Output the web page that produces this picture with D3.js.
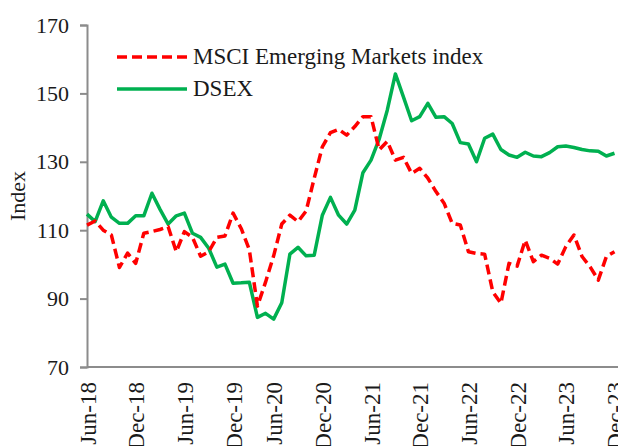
<!DOCTYPE html>
<html>
<head>
<meta charset="utf-8">
<script src="https://cdn.jsdelivr.net/npm/d3@7"></script>
<style>
  body { margin: 0; background: #fff; }
  svg { display: block; font-family: "Liberation Serif", "DejaVu Serif", serif; }
</style>
</head>
<body>
<div id="chart"></div>
<script>
// monthly observations, Apr-20 is missing (market closed)
var months = [
  "Jun-18","Jul-18","Aug-18","Sep-18","Oct-18","Nov-18","Dec-18",
  "Jan-19","Feb-19","Mar-19","Apr-19","May-19","Jun-19","Jul-19","Aug-19","Sep-19","Oct-19","Nov-19","Dec-19",
  "Jan-20","Feb-20","Mar-20","May-20","Jun-20","Jul-20","Aug-20","Sep-20","Oct-20","Nov-20","Dec-20",
  "Jan-21","Feb-21","Mar-21","Apr-21","May-21","Jun-21","Jul-21","Aug-21","Sep-21","Oct-21","Nov-21","Dec-21",
  "Jan-22","Feb-22","Mar-22","Apr-22","May-22","Jun-22","Jul-22","Aug-22","Sep-22","Oct-22","Nov-22","Dec-22",
  "Jan-23","Feb-23","Mar-23","Apr-23","May-23","Jun-23","Jul-23","Aug-23","Sep-23","Oct-23","Nov-23","Dec-23"
]
var msci = [
  111.5, 112.7, 110, 108.6, 99.1, 103.3, 100.3, 109.1, 109.6, 110.2,
  111, 103.7, 109.6, 107.9, 102.4, 103.7, 107.9, 108.3, 115, 110.5,
  104.3, 87.8, 94.8, 102.5, 111.8, 114.4, 112.5, 115.6, 125.2, 134.4,
  138.5, 139.5, 137.8, 140.3, 143.2, 143.2, 133.5, 136, 130.5, 131.3,
  126.6, 128.1, 125.2, 121.3, 117.9, 112, 111.5, 103.7, 103.2, 103,
  92, 88.6, 100.3, 99.5, 107.1, 100.8, 102.7, 101.8, 100.1, 105.2,
  108.6, 102.3, 99.3, 95.4, 102.3, 103.7
]
var dsex = [
  114.7, 112.5, 118.6, 113.8, 112, 112, 114.2, 114.2, 120.8, 116.1,
  111.8, 114.2, 115, 109.1, 107.9, 104.7, 99.2, 100.1, 94.5, 94.6,
  94.8, 84.5, 85.7, 84, 88.8, 103, 105, 102.5, 102.7, 114.4,
  119.6, 114.4, 111.8, 115.9, 126.8, 130.5, 136.6, 145.1, 155.7, 148.9,
  142, 143.2, 147.1, 143, 143.2, 141.2, 135.6, 135.2, 130, 136.9,
  138.1, 133.6, 132, 131.3, 132.8, 131.7, 131.5, 132.7, 134.4, 134.6,
  134.2, 133.6, 133.2, 133.1, 131.7, 132.5
]
var tickLabels = ["Jun-18","Dec-18","Jun-19","Dec-19","Jun-20","Dec-20","Jun-21","Dec-21","Jun-22","Dec-22","Jun-23","Dec-23"]
var yTicks = [70, 90, 110, 130, 150, 170]
var seriesNames = ["MSCI Emerging Markets index", "DSEX"]

var width = 618, height = 446
var margin = {left: 87, right: 614.5, top: 25, bottom: 367}
var textColor = "#1a1a1a", axisColor = "#8c8c8c"
var fontSize = "23px"

var svg = d3.select("#chart").append("svg")
  .attr("width", width).attr("height", height)

var x = d3.scalePoint().domain(months).range([margin.left, margin.right])
var y = d3.scaleLinear().domain([70, 170]).range([margin.bottom, margin.top])

// y axis
var yAxis = svg.append("g")
  .attr("transform", "translate(" + margin.left + ",0)")
  .call(d3.axisLeft(y).tickValues(yTicks).tickSize(7).tickPadding(11).tickFormat(d3.format("d")))
yAxis.select(".domain").attr("stroke", axisColor).attr("stroke-width", 2)
yAxis.selectAll(".tick line").attr("stroke", axisColor).attr("stroke-width", 2)
yAxis.selectAll(".tick text")
  .attr("fill", textColor)
  .style("font-size", "22px")
  .style("font-family", "Liberation Serif, serif")

// x axis (no tick marks)
var xAxis = svg.append("g")
  .attr("transform", "translate(0," + margin.bottom + ")")
  .call(d3.axisBottom(x).tickValues(tickLabels).tickSize(0).tickPadding(0))
xAxis.select(".domain").attr("stroke", axisColor).attr("stroke-width", 2)
  .attr("d", "M" + margin.left + ",0H" + width)
xAxis.selectAll(".tick text")
  .attr("fill", textColor)
  .style("font-size", fontSize)
  .style("font-family", "Liberation Serif, serif")
  .attr("text-anchor", "end")
  .attr("transform", "rotate(-90)")
  .attr("x", -15)
  .attr("y", 0)
  .attr("dy", "0.35em")

// y title
svg.append("text")
  .attr("transform", "translate(25," + ((margin.top + margin.bottom) / 2) + ") rotate(-90)")
  .attr("text-anchor", "middle")
  .attr("fill", textColor)
  .style("font-size", "22px")
  .text("Index")

var line = d3.line()
  .x(function(d, i) { return x(months[i]) })
  .y(function(d) { return y(d) })

svg.append("path")
  .datum(dsex)
  .attr("fill", "none")
  .attr("stroke", "#00b050")
  .attr("stroke-width", 3.5)
  .attr("stroke-linejoin", "round")
  .attr("d", line)

svg.append("path")
  .datum(msci)
  .attr("fill", "none")
  .attr("stroke", "#ff0000")
  .attr("stroke-width", 3.5)
  .attr("stroke-dasharray", "10,5")
  .attr("stroke-linejoin", "round")
  .attr("d", line)

// legend
var legend = svg.append("g")
var legendRows = [
  {name: seriesNames[0], color: "#ff0000", dash: "10,5", y: 57},
  {name: seriesNames[1], color: "#00b050", dash: null, y: 89}
]
legendRows.forEach(function(r) {
  legend.append("line")
    .attr("x1", 117).attr("x2", 187)
    .attr("y1", r.y).attr("y2", r.y)
    .attr("stroke", r.color)
    .attr("stroke-width", 3.5)
    .attr("stroke-dasharray", r.dash)
  legend.append("text")
    .attr("x", 193).attr("y", r.y + 7)
    .attr("fill", textColor)
    .style("font-size", fontSize)
    .text(r.name)
})
</script>
</body>
</html>
